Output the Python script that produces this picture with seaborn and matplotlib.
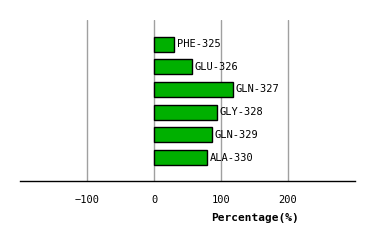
import matplotlib
matplotlib.use("Agg")
import matplotlib.pyplot as plt
import seaborn as sns
import pandas as pd

residues = ["PHE-325", "GLU-326", "GLN-327", "GLY-328", "GLN-329", "ALA-330"]
percentages = [29.5, 56.5, 117.5, 94, 86.5, 79]
xticks = [-100, 0, 100, 200]

df = pd.DataFrame({"residue": residues, "pct": percentages})

sns.set_style("white")
plt.rcParams['font.family'] = ['DejaVu Sans Mono']
plt.rcParams['text.color'] = 'black'
plt.rcParams['xtick.color'] = 'black'
plt.rcParams['axes.labelcolor'] = 'black'

fig = plt.figure(figsize=(3.74, 2.40), dpi=100)
ax = fig.add_axes([20/374, 1-181/240, 335/374, 161/240])

for x in xticks:
    ax.axvline(x, color="#a0a0a0", lw=1, zorder=0)

sns.barplot(data=df, x="pct", y="residue", orient="h", color="#00b000",
            edgecolor="black", linewidth=1, width=0.66, ax=ax, saturation=1, zorder=2)

for i, (r, v) in enumerate(zip(residues, percentages)):
    ax.text(v + 4.5, i, r, va="center", ha="left", fontsize=7.5, color="black")

ax.set_xlim(-201, 301)
ax.set_ylim(6.03, -1.06)
ax.set_xticks(xticks)
ax.set_xticklabels([str(t).replace("-", "−") for t in xticks], fontsize=7.5)
ax.set_yticks([])
ax.set_ylabel("")
ax.set_xlabel("Percentage(%)", fontsize=8, fontweight="bold", labelpad=4)
ax.xaxis.set_label_coords((255 - 20) / 335, -0.20)
ax.tick_params(axis="x", length=0, pad=10)
for s in ["top", "left", "right"]:
    ax.spines[s].set_visible(False)
ax.spines["bottom"].set_color("black")
ax.spines["bottom"].set_linewidth(1)

fig.savefig("out.png", dpi=100)
